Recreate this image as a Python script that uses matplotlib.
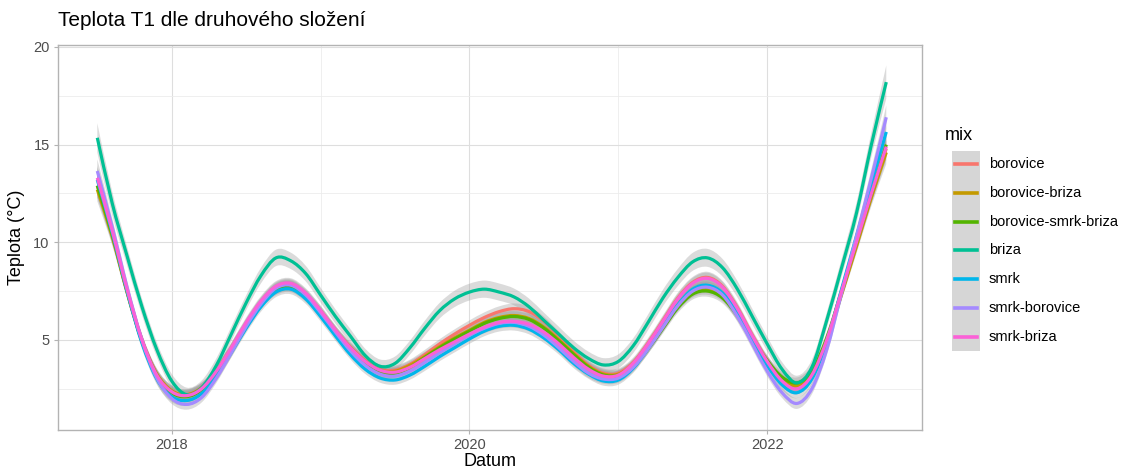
import numpy as np
import matplotlib
matplotlib.use("Agg")
import matplotlib.pyplot as plt
from matplotlib.patches import Rectangle, PathPatch
from matplotlib.path import Path
from matplotlib.lines import Line2D

plt.rcParams['font.family'] = ['Liberation Sans', 'DejaVu Sans']

# ---------------- data ----------------
years = [2017.5 + 0.1 * i for i in range(54)]

mix_names = ["borovice", "borovice-briza", "borovice-smrk-briza", "briza",
             "smrk", "smrk-borovice", "smrk-briza"]
mix_colors = ["#F8766D", "#C49A00", "#53B400", "#00C094",
              "#00B6EB", "#A58AFF", "#FB61D7"]

borovice = [12.9, 10.4, 7.5, 5.0, 3.25, 2.4, 2.2, 2.55, 3.4, 4.6, 5.85, 6.95, 7.7, 7.85,
            7.35, 6.5, 5.5, 4.65, 3.95, 3.5, 3.45, 3.75, 4.25, 4.8, 5.3, 5.75, 6.15, 6.45,
            6.6, 6.45, 5.95, 5.2, 4.4, 3.7, 3.3, 3.3, 3.85, 4.85, 6.0, 7.15, 7.95, 8.2,
            7.75, 6.65, 5.25, 3.95, 2.95, 2.55, 3.2, 4.95, 7.4, 9.9, 12.4, 14.8]
borovice_briza = [12.7, 10.3, 7.45, 4.95, 3.25, 2.4, 2.2, 2.55, 3.4, 4.55, 5.8, 6.9, 7.6, 7.75,
                  7.25, 6.4, 5.45, 4.6, 3.9, 3.45, 3.4, 3.7, 4.15, 4.65, 5.1, 5.5, 5.9, 6.15,
                  6.25, 6.1, 5.65, 5.0, 4.3, 3.65, 3.25, 3.25, 3.75, 4.65, 5.7, 6.75, 7.45, 7.6,
                  7.25, 6.3, 5.05, 3.9, 3.0, 2.65, 3.25, 4.95, 7.35, 9.8, 12.3, 14.6]
borovice_smrk_briza = [12.9, 10.4, 7.5, 4.95, 3.2, 2.3, 2.1, 2.45, 3.35, 4.5, 5.75, 6.85, 7.55, 7.7,
                       7.2, 6.35, 5.4, 4.5, 3.8, 3.35, 3.3, 3.6, 4.1, 4.6, 5.05, 5.45, 5.85, 6.1,
                       6.2, 6.05, 5.6, 4.95, 4.25, 3.6, 3.2, 3.2, 3.7, 4.55, 5.6, 6.65, 7.35, 7.5,
                       7.15, 6.25, 5.05, 3.95, 3.1, 2.8, 3.4, 5.1, 7.5, 10.0, 12.5, 15.0]
briza = [15.35, 12.0, 9.3, 6.7, 4.5, 2.9, 2.2, 2.55, 3.7, 5.3, 6.9, 8.3, 9.2, 9.05,
         8.4, 7.3, 6.2, 5.2, 4.2, 3.65, 3.8, 4.6, 5.6, 6.5, 7.1, 7.45, 7.6, 7.45,
         7.2, 6.7, 6.0, 5.3, 4.6, 4.05, 3.72, 3.9, 4.7, 5.9, 7.15, 8.2, 9.0, 9.2,
         8.7, 7.6, 6.2, 4.8, 3.5, 2.8, 3.6, 6.0, 8.7, 11.5, 15.0, 18.2]
smrk = [13.2, 10.5, 7.5, 4.85, 3.0, 2.1, 1.9, 2.25, 3.15, 4.35, 5.6, 6.7, 7.45, 7.6,
        7.1, 6.2, 5.2, 4.25, 3.5, 3.05, 2.95, 3.2, 3.65, 4.15, 4.6, 5.05, 5.45, 5.7,
        5.75, 5.55, 5.1, 4.5, 3.8, 3.25, 2.9, 2.95, 3.55, 4.55, 5.7, 6.8, 7.6, 7.8,
        7.4, 6.35, 5.0, 3.7, 2.7, 2.3, 3.0, 4.9, 7.6, 10.3, 13.0, 15.65]
smrk_borovice = [13.65, 10.8, 7.7, 5.0, 3.05, 2.0, 1.7, 2.05, 3.05, 4.35, 5.7, 6.85, 7.65, 7.8,
                 7.3, 6.4, 5.4, 4.45, 3.7, 3.25, 3.15, 3.4, 3.85, 4.35, 4.8, 5.25, 5.6, 5.85,
                 5.9, 5.7, 5.25, 4.6, 3.9, 3.3, 3.0, 3.05, 3.6, 4.55, 5.65, 6.75, 7.5, 7.7,
                 7.3, 6.2, 4.8, 3.4, 2.3, 1.75, 2.5, 4.5, 7.4, 10.3, 13.3, 16.4]
smrk_briza = [13.3, 10.6, 7.6, 5.0, 3.2, 2.35, 2.15, 2.5, 3.4, 4.6, 5.9, 7.0, 7.75, 7.9,
              7.4, 6.5, 5.5, 4.6, 3.9, 3.45, 3.35, 3.6, 4.05, 4.5, 4.9, 5.3, 5.65, 5.9,
              5.95, 5.8, 5.4, 4.8, 4.1, 3.5, 3.15, 3.2, 3.8, 4.8, 5.95, 7.1, 7.9, 8.15,
              7.7, 6.6, 5.2, 3.9, 2.9, 2.5, 3.2, 5.0, 7.5, 10.0, 12.5, 14.9]

series = [borovice, borovice_briza, borovice_smrk_briza, briza,
          smrk, smrk_borovice, smrk_briza]

# half-width of the grey confidence band
band_group = [0.6, 0.45, 0.35, 0.3, 0.28, 0.27, 0.27, 0.26, 0.25, 0.25, 0.25, 0.25, 0.26, 0.26,
              0.25, 0.25, 0.24, 0.24, 0.24, 0.24, 0.24, 0.24, 0.24, 0.24, 0.24, 0.25, 0.26, 0.27,
              0.27, 0.26, 0.25, 0.24, 0.24, 0.24, 0.24, 0.24, 0.24, 0.25, 0.26, 0.27, 0.28, 0.29,
              0.28, 0.27, 0.26, 0.26, 0.27, 0.28, 0.29, 0.3, 0.33, 0.38, 0.45, 0.6]
band_briza = [0.75, 0.6, 0.48, 0.42, 0.38, 0.36, 0.36, 0.36, 0.36, 0.37, 0.38, 0.4, 0.42, 0.42,
              0.4, 0.38, 0.37, 0.36, 0.35, 0.35, 0.35, 0.36, 0.38, 0.4, 0.42, 0.43, 0.44, 0.44,
              0.43, 0.42, 0.4, 0.38, 0.36, 0.35, 0.35, 0.36, 0.38, 0.4, 0.42, 0.44, 0.46, 0.46,
              0.45, 0.42, 0.4, 0.38, 0.37, 0.37, 0.38, 0.4, 0.45, 0.52, 0.62, 0.85]


def smooth_path(xs, ys):
    """Catmull-Rom curve through the read points, as cubic Bezier segments."""
    xs = np.asarray(xs, float)
    ys = np.asarray(ys, float)
    n = len(xs)
    verts = [(xs[0], ys[0])]
    codes = [Path.MOVETO]
    for i in range(n - 1):
        i0, i3 = max(i - 1, 0), min(i + 2, n - 1)
        c1 = (xs[i] + (xs[i + 1] - xs[i0]) / 6, ys[i] + (ys[i + 1] - ys[i0]) / 6)
        c2 = (xs[i + 1] - (xs[i3] - xs[i]) / 6, ys[i + 1] - (ys[i3] - ys[i]) / 6)
        verts += [c1, c2, (xs[i + 1], ys[i + 1])]
        codes += [Path.CURVE4] * 3
    return verts, codes


# ---------------- figure ----------------
W, H = 1123, 471
fig = plt.figure(figsize=(W / 100, H / 100), dpi=100)
L, R, T, B = 58, 922, 45, 430
ax = fig.add_axes([L / W, 1 - B / H, (R - L) / W, (B - T) / H])

x = np.array(years)
for name, col, ys in zip(mix_names, mix_colors, series):
    ys = np.array(ys)
    bw = np.array(band_briza if name == "briza" else band_group)
    vu, cu = smooth_path(x, ys + bw)
    vl, cl = smooth_path(x[::-1], (ys - bw)[::-1])
    verts = vu + [vl[0]] + vl[1:] + [vu[0]]
    codes = cu + [Path.LINETO] + cl[1:] + [Path.CLOSEPOLY]
    ax.add_patch(PathPatch(Path(verts, codes), facecolor="#999999", alpha=0.35,
                           edgecolor="none", zorder=2))
for name, col, ys in zip(mix_names, mix_colors, series):
    v, c = smooth_path(x, ys)
    ax.add_patch(PathPatch(Path(v, c), facecolor="none", edgecolor=col, lw=2.3,
                           capstyle="butt", joinstyle="round", zorder=3))

ax.set_xlim(2017.236, 2023.04)
ax.set_ylim(0.39, 20.1)

ax.set_xticks([2018, 2020, 2022])
ax.set_xticklabels(["2018", "2020", "2022"])
ax.set_xticks([2019, 2021], minor=True)
ax.set_yticks([5, 10, 15, 20])
ax.set_yticklabels(["5", "10", "15", "20"])
ax.set_yticks([2.5, 7.5, 12.5, 17.5], minor=True)

ax.grid(which="major", color="#DEDEDE", lw=0.8, zorder=0)
ax.grid(which="minor", color="#ECECEC", lw=0.6, zorder=0)
ax.set_axisbelow(True)
for s in ax.spines.values():
    s.set_color("#B3B3B3")
    s.set_linewidth(1.0)
ax.tick_params(which="major", length=3, width=0.8, color="#B3B3B3",
               labelsize=10.5, labelcolor="#4D4D4D", pad=3)
ax.tick_params(which="minor", length=0)

fig.text((L + R) / 2 / W, 1 - 461 / H, "Datum", fontsize=13, ha="center", va="center",
         color="black")
ax.set_ylabel("Teplota (°C)", fontsize=13, color="black", labelpad=6)
fig.text(L / W, 1 - 20 / H, "Teplota T1 dle druhového složení", fontsize=15,
         ha="left", va="center", color="black")

# ---------------- legend (ggplot-style) ----------------
def fx(px):
    return px / W

def fy(py):
    return 1 - py / H

fig.text(fx(945), fy(136), "mix", fontsize=13, ha="left", va="center")
fig.patches.append(Rectangle((fx(952), fy(351)), fx(980) - fx(952), fy(151) - fy(351),
                             transform=fig.transFigure, facecolor="#D6D6D6",
                             edgecolor="none"))
for i, (name, col) in enumerate(zip(mix_names, mix_colors)):
    yy = 164 + i * 28.8
    fig.lines.append(Line2D([fx(955), fx(977)], [fy(yy), fy(yy)], color=col, lw=2.6,
                            transform=fig.transFigure))
    fig.text(fx(989), fy(yy), name, fontsize=10.5, ha="left", va="center", color="black")

fig.savefig("out.png", dpi=100)
